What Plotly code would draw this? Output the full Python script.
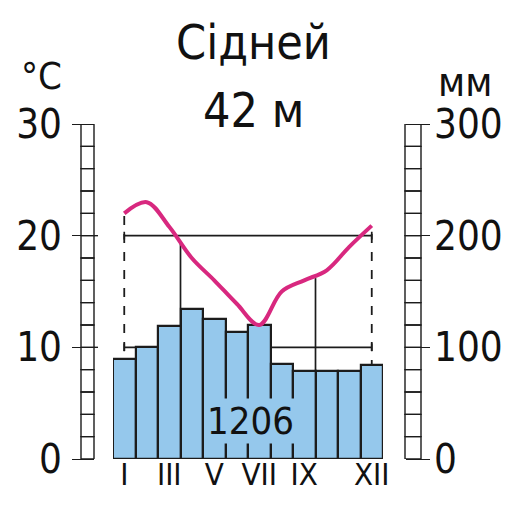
import plotly.graph_objects as go

# the page adds an 8 px body margin, so the figure is laid out 8 px in
OFF = 8
W, H = 517 - OFF, 510 - OFF

months = list(range(1, 13))
month_ticks = [1, 3, 5, 7, 9, 12]
month_labels = ["I", "III", "V", "VII", "IX", "XII"]
precip_mm = [90, 100, 119, 134, 125, 114, 120, 85, 79, 79, 79, 84]
temp_c = [22.0, 23.0, 20.8, 18.0, 16.0, 13.9, 12.0, 15.0, 16.0, 16.9, 19.0, 20.9]
temp_ticks = [0, 10, 20, 30]
mm_ticks = [0, 100, 200, 300]
title_city = "Сідней"
title_alt = "42 м"
annual_total = "1206"

FONT = "DejaVu Sans Condensed, Liberation Sans, sans-serif"
INK = "#1c1c1c"
BAR = "#95c8ec"
LINE = "#d8287f"


def px(x):
    return (x - OFF) / W


def py(y):
    return 1 - (y - OFF) / H


fig = go.Figure()

fig.add_trace(go.Bar(
    x=months, y=precip_mm, width=1.0,
    marker=dict(color=BAR, line=dict(color=INK, width=2.2)),
    yaxis="y", hoverinfo="skip",
))
fig.add_trace(go.Scatter(
    x=months, y=temp_c, mode="lines", yaxis="y2",
    line=dict(color=LINE, width=4, shape="spline", smoothing=1.0),
    hoverinfo="skip",
))

shapes = []
# ladders along both scales
for k in range(15):
    shapes.append(dict(type="rect", xref="paper", yref="y2",
                       x0=px(81), x1=px(94), y0=2 * k, y1=2 * k + 2,
                       line=dict(color=INK, width=1.4)))
    shapes.append(dict(type="rect", xref="paper", yref="y",
                       x0=px(405), x1=px(421), y0=20 * k, y1=20 * k + 20,
                       line=dict(color=INK, width=1.4)))
for t in (10, 20):
    shapes.append(dict(type="line", xref="paper", yref="y2",
                       x0=px(94), x1=px(98), y0=t, y1=t,
                       line=dict(color=INK, width=1.4)))

# reference lines of the diagram
for t in (10, 20):
    shapes.append(dict(type="line", xref="x", yref="y2", x0=1, x1=12, y0=t, y1=t,
                       line=dict(color=INK, width=1.7), layer="below"))
    for xe in (1, 12):
        shapes.append(dict(type="line", xref="x", yref="y2", x0=xe, x1=xe,
                           y0=t - 0.35, y1=t + 0.35,
                           line=dict(color=INK, width=1.7), layer="below"))
for xe, te in ((1, temp_c[0]), (12, temp_c[-1])):
    shapes.append(dict(type="line", xref="x", yref="y2", x0=xe, x1=xe, y0=0, y1=te,
                       line=dict(color=INK, width=1.8, dash="dash"), layer="below"))
for xe, te in ((3.5, 19.4), (9.5, 16.2)):
    shapes.append(dict(type="line", xref="x", yref="y2", x0=xe, x1=xe, y0=0, y1=te,
                       line=dict(color=INK, width=1.7), layer="below"))


def label(text, x, y, size):
    return dict(text=text, x=px(x), y=py(y), xref="paper", yref="paper",
                xanchor="center", yanchor="middle", showarrow=False,
                font=dict(family=FONT, size=size, color="#111"))


annotations = [
    label(title_city, 253, 42, 48),
    label(title_alt, 253, 110, 48),
    label("°C", 41, 76, 38),
    label("мм", 465, 82, 40),
    dict(text=annual_total, x=6.6, y=34, xref="x", yref="y",
         xanchor="center", yanchor="middle",
         showarrow=False, bgcolor=BAR, borderpad=0,
         font=dict(family=FONT, size=38, color="#111")),
]

fig.update_layout(
    width=W, height=H,
    margin=dict(l=0, r=0, t=0, b=0, autoexpand=False),
    paper_bgcolor="white", plot_bgcolor="rgba(0,0,0,0)",
    showlegend=False,
    bargap=0,
    xaxis=dict(domain=[px(113), px(383)], range=[0.5, 12.5], automargin=False,
               tickmode="array", tickvals=month_ticks, ticktext=month_labels,
               ticks="", showgrid=False, zeroline=False, showline=False,
               ticklabelstandoff=-6,
               tickfont=dict(family=FONT, size=31, color="#111")),
    yaxis=dict(domain=[py(459), py(124)], range=[0, 300], automargin=False,
               anchor="free", position=px(405), side="right",
               tickmode="array", tickvals=mm_ticks,
               ticks="outside", ticklen=24, tickwidth=1.4, tickcolor=INK,
               showgrid=False, zeroline=False, showline=False,
               ticklabelstandoff=-4,
               tickfont=dict(family=FONT, size=40, color="#111")),
    yaxis2=dict(domain=[py(459), py(124)], range=[0, 30], overlaying="y",
                automargin=False,
                anchor="free", position=px(94), side="left",
                tickmode="array", tickvals=temp_ticks,
                ticks="outside", ticklen=22, tickwidth=1.4, tickcolor=INK,
                showgrid=False, zeroline=False, showline=False,
                ticklabelstandoff=2,
                tickfont=dict(family=FONT, size=40, color="#111")),
    shapes=shapes,
    annotations=annotations,
)

fig.write_html("out.html")
